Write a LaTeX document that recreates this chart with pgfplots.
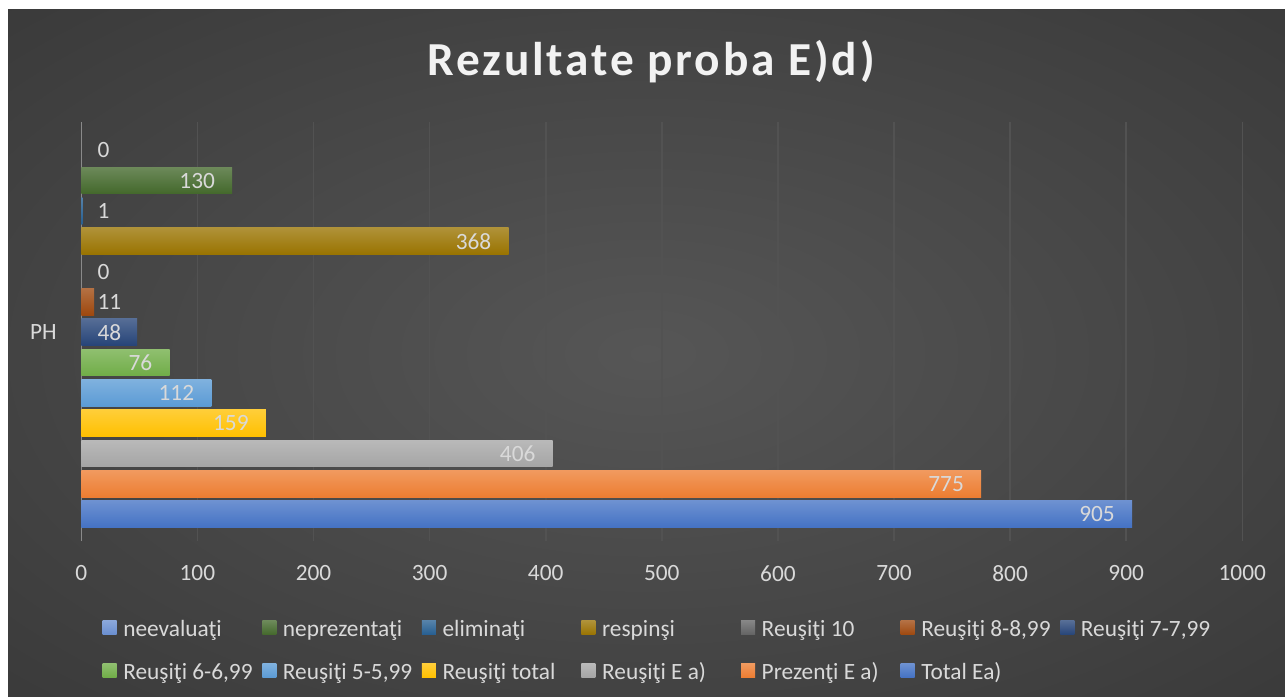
\documentclass[border=0pt]{standalone}
\usepackage{fontspec}
\setmainfont{Carlito}
\newfontfamily\titlefont[LetterSpace=6]{Carlito}
\usepackage{pgfplots}
\pgfplotsset{compat=1.18}

% background and text colours
\definecolor{bgin}{HTML}{565656}
\definecolor{bgmid}{HTML}{2F2F2F}
\definecolor{bgout}{HTML}{262626}
\definecolor{txt}{HTML}{D9D9D9}
\definecolor{gridc}{HTML}{525252}
\definecolor{axisc}{HTML}{8A8A8A}
% series colours
\definecolor{cNeev}{HTML}{698ED0}
\definecolor{cNepr}{HTML}{43682B}
\definecolor{cElim}{HTML}{255E91}
\definecolor{cResp}{HTML}{997300}
\definecolor{cZece}{HTML}{636363}
\definecolor{cOpt}{HTML}{9E480E}
\definecolor{cSapte}{HTML}{264478}
\definecolor{cSase}{HTML}{70AD47}
\definecolor{cCinci}{HTML}{5B9BD5}
\definecolor{cTot}{HTML}{FFC000}
\definecolor{cEa}{HTML}{A5A5A5}
\definecolor{cPrez}{HTML}{ED7D31}
\definecolor{cTotal}{HTML}{4472C4}

\pgfdeclareradialshading{bgshade}{\pgfpoint{0bp}{0bp}}{color(0bp)=(bgin); color(50bp)=(bgmid); color(71bp)=(bgout)}

\newcommand{\lbl}[1]{\makebox[104.2bp][l]{\rule[-4bp]{0pt}{18bp}#1}}
\newcommand{\chartfont}{\fontsize{17.5bp}{21bp}\selectfont}

\pgfplotsset{
  barc/.style={xbar, bar width=0.88, bar shift=0pt, draw=none,
    top color=#1!78!white, bottom color=#1},
  inlbl/.style={nodes near coords,
    nodes near coords style={anchor=east, xshift=-12.75bp}},
  outlbl/.style={nodes near coords,
    nodes near coords style={anchor=west, xshift=#1}},
}

\begin{document}
\begin{tikzpicture}
\fill[white] (0bp,0bp) rectangle (963.75bp,522.75bp);
\shade[shading=bgshade] (6bp,0bp) rectangle (963.75bp,515.25bp);
\node[anchor=base, text=white!95!black,
  font=\titlefont\bfseries\fontsize{35.5bp}{40bp}\selectfont]
  at (488.5bp,466bp) {Rezultate proba E)d)};

\begin{axis}[
  at={(60.98bp,117bp)}, anchor=south west,
  scale only axis, width=870.75bp, height=314.25bp,
  xmin=0, xmax=1000, ymin=-0.88, ymax=12.93,
  xtick={0,100,...,1000}, ytick={6}, yticklabels={PH},
  axis lines*=left,
  x axis line style={draw=none},
  y axis line style={axisc, line width=1.2bp},
  major tick length=0pt,
  xmajorgrids, major grid style={gridc, line width=1.2bp},
  /pgf/number format/assume math mode=true,
  /pgf/number format/1000 sep={},
  ticklabel style={text=txt, font=\chartfont},
  xticklabel style={anchor=north, inner sep=0pt, yshift=-18.4bp},
  yticklabel style={anchor=east, inner sep=0pt, xshift=-18.2bp},
  every node near coord/.append style={text=txt, font=\chartfont, inner sep=0pt},
  clip=false,
  legend columns=7,
  legend style={at={(0.0184,-0.1845)}, anchor=north west, draw=none, fill=none,
    inner sep=0pt, outer sep=0pt, row sep=16.5bp, font=\chartfont, text=txt,
    nodes={inner sep=0pt},
    /tikz/every odd column/.style={column sep=5bp},
    /tikz/every even column/.style={column sep=0pt}},
  legend image code/.code={\path[#1, draw=none] (0bp,-4.7bp) rectangle (10.5bp,5.8bp);},
]
\addplot[barc=cNeev, outlbl=12bp] coordinates {(0,12)};
\addlegendentry{\lbl{neevaluaţi}}
\addplot[barc=cNepr, inlbl] coordinates {(130,11)};
\addlegendentry{\lbl{neprezentaţi}}
\addplot[barc=cElim, outlbl=11.13bp] coordinates {(1,10)};
\addlegendentry{\lbl{eliminaţi}}
\addplot[barc=cResp, inlbl] coordinates {(368,9)};
\addlegendentry{\lbl{respinşi}}
\addplot[barc=cZece, outlbl=12bp] coordinates {(0,8)};
\addlegendentry{\lbl{Reuşiţi 10}}
\addplot[barc=cOpt, outlbl=2.42bp] coordinates {(11,7)};
\addlegendentry{\lbl{Reuşiţi 8-8,99}}
\addplot[barc=cSapte, outlbl=-29.8bp] coordinates {(48,6)};
\addlegendentry{\lbl{Reuşiţi 7-7,99}}
\addplot[barc=cSase, inlbl] coordinates {(76,5)};
\addlegendentry{\lbl{Reuşiţi 6-6,99}}
\addplot[barc=cCinci, inlbl] coordinates {(112,4)};
\addlegendentry{\lbl{Reuşiţi 5-5,99}}
\addplot[barc=cTot, inlbl] coordinates {(159,3)};
\addlegendentry{\lbl{Reuşiţi total}}
\addplot[barc=cEa, inlbl] coordinates {(406,2)};
\addlegendentry{\lbl{Reuşiţi E a)}}
\addplot[barc=cPrez, inlbl] coordinates {(775,1)};
\addlegendentry{\lbl{Prezenţi E a)}}
\addplot[barc=cTotal, inlbl] coordinates {(905,0)};
\addlegendentry{\lbl{Total Ea)}}
\end{axis}
\end{tikzpicture}
\end{document}
